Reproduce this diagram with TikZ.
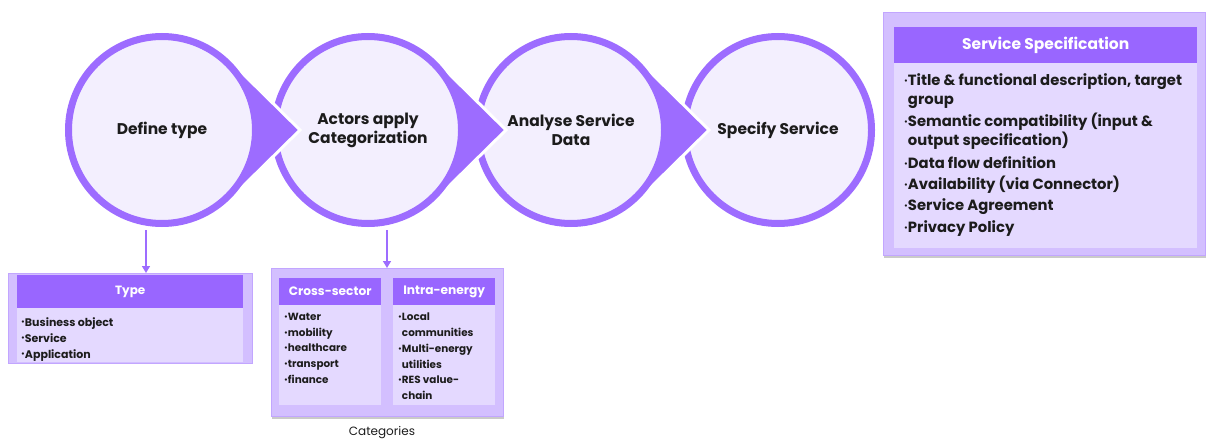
\documentclass[tikz,border=0pt]{standalone}
\usepackage{fontspec}
\setmainfont{Poppins}
\usetikzlibrary{arrows.meta,shadows}
\definecolor{ring}{HTML}{9D6CFF}
\definecolor{cfill}{HTML}{F3EFFE}
\definecolor{hdr}{HTML}{9966FF}
\definecolor{obox}{HTML}{D3BFFF}
\definecolor{obord}{HTML}{C2A6FF}
\definecolor{panel}{HTML}{E4D9FF}
\definecolor{txt}{HTML}{1C1C1C}
\newcommand\bu{\raisebox{0.2ex}{\fontsize{7.5}{7.5}\selectfont\textbullet}}
\begin{document}
\begin{tikzpicture}[x=1pt,y=-1pt,
  ringc/.style={circle, draw=ring, line width=7pt, fill=cfill, minimum size=187pt, inner sep=0pt, align=center, font=\fontsize{15.5}{19}\selectfont\bfseries, text=txt},
  tear/.style={fill=ring, draw=white, line width=3pt, line join=miter},
  outerbox/.style={draw=obord, line width=1pt, fill=obox, inner sep=0pt, anchor=north west},
  hdrbox/.style={fill=hdr, inner sep=0pt, anchor=north west, text=white},
  panelbox/.style={fill=panel, inner sep=0pt, anchor=north west},
  itemtxt/.style={anchor=north west, inner sep=0pt, align=left, text=txt},
  arr/.style={draw=ring, line width=1.5pt, -{Triangle[length=7pt,width=8pt]}},
  shad/.style={drop shadow={shadow xshift=0pt, shadow yshift=-2pt, opacity=0.35, fill=black!60}}
]
\useasboundingbox (0,0) rectangle (1206,441);
% circles and teardrops
\node[ringc] (c4) at (778,130) {Specify Service};
\fill[tear] (571,130) -- (639,61) -- (709,130) -- (639,199) -- cycle;
\node[ringc] (c3) at (571,130) {Analyse Service\\Data};
\fill[tear] (368,130) -- (436,61) -- (506,130) -- (436,199) -- cycle;
\node[ringc] (c2) at (368,130) {Actors apply\\Categorization};
\fill[tear] (162,130) -- (230,61) -- (300,130) -- (230,199) -- cycle;
\node[ringc] (c1) at (162,130) {Define type};
% Type box
\node[outerbox, minimum width=244pt, minimum height=90pt] (typebox) at (8,273) {};
\node[hdrbox, minimum width=226pt, minimum height=33pt, font=\fontsize{12}{13}\selectfont\bfseries] (typehdr) at (17,275) {Type};
\node[panelbox, minimum width=226pt, minimum height=54pt] (typebody) at (17,308) {};
\node[itemtxt, font=\fontsize{11}{16}\selectfont\bfseries] (typeitems) at (21,317) {\bu Business object\\ \bu Service\\ \bu Application};
% Categories box
\node[outerbox, shad, minimum width=232pt, minimum height=148pt] (catbox) at (271,268) {};
\node[hdrbox, minimum width=102pt, minimum height=27pt, font=\fontsize{12.2}{13}\selectfont\bfseries] (crosshdr) at (279,278) {Cross-sector};
\node[panelbox, minimum width=102pt, minimum height=100pt] (crossbody) at (279,305) {};
\node[hdrbox, minimum width=102pt, minimum height=27pt, font=\fontsize{12.2}{13}\selectfont\bfseries] (intrahdr) at (393,278) {Intra-energy};
\node[panelbox, minimum width=102pt, minimum height=100pt] (intrabody) at (393,305) {};
\node[itemtxt, font=\fontsize{10.4}{15.7}\selectfont\bfseries] (crossitems) at (284,313) {\bu Water\\ \bu mobility\\ \bu healthcare\\ \bu transport\\ \bu finance};
\node[itemtxt, font=\fontsize{10.4}{15.7}\selectfont\bfseries] (intraitems) at (398,313) {\bu Local\\ \phantom{\bu}communities\\ \bu Multi-energy\\ \phantom{\bu}utilities\\ \bu RES value-\\ \phantom{\bu}chain};
\node[text=txt, inner sep=0pt, font=\fontsize{12}{13}\selectfont] (catlabel) at (382,433) {Categories};
% Service specification box
\node[outerbox, shad, minimum width=322pt, minimum height=243pt] (specbox) at (883,12) {};
\node[hdrbox, minimum width=303pt, minimum height=36pt, font=\fontsize{15.5}{17}\selectfont\bfseries] (spechdr) at (894,27) {Service Specification};
\node[panelbox, minimum width=303pt, minimum height=185pt] (specbody) at (894,63) {};
\node[itemtxt, font=\fontsize{14.8}{19}\selectfont\bfseries] (specitems) at (904,73) {\bu Title \& functional description, target\\ \phantom{\bu}group\\[3pt] \bu Semantic compatibility (input \&\\ \phantom{\bu}output specification)\\[4pt] \bu Data flow definition\\[2pt] \bu Availability (via Connector)\\[2pt] \bu Service Agreement\\[3pt] \bu Privacy Policy};
% connectors
\coordinate (a1) at (146,230);
\coordinate (a2) at (387,230);
\draw[arr] (a1) -- (a1 |- typebox.north);
\draw[arr] (a2) -- (a2 |- catbox.north);
\end{tikzpicture}
\end{document}
